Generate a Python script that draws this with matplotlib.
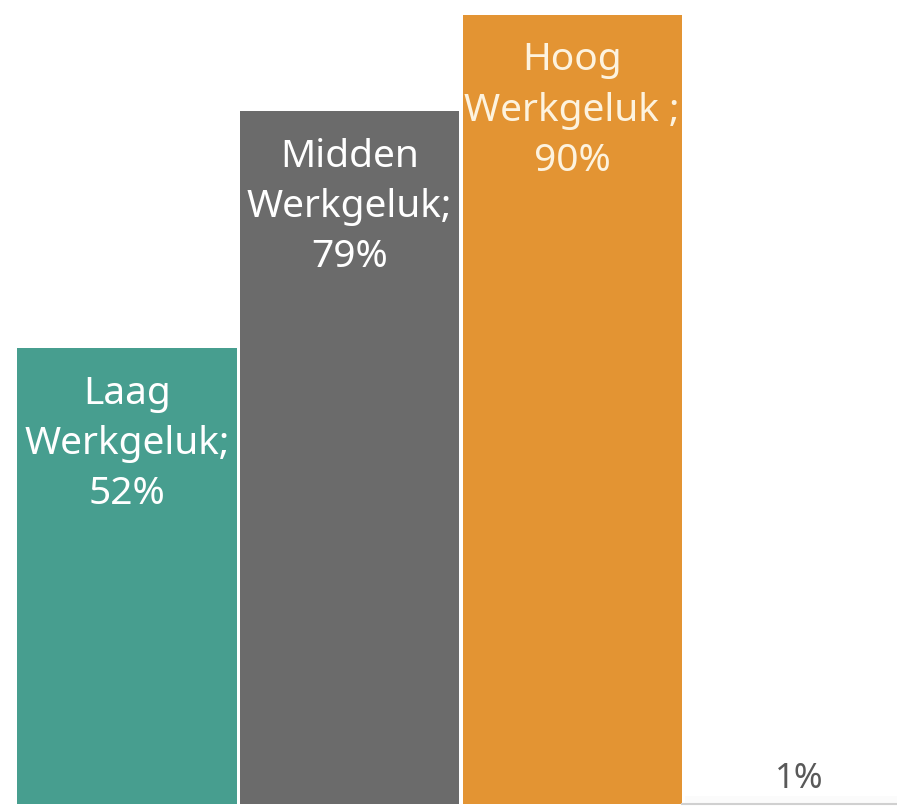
import matplotlib
matplotlib.use("Agg")
import matplotlib.pyplot as plt

# data
categories = ["Laag\nWerkgeluk;", "Midden\nWerkgeluk;", "Hoog\nWerkgeluk ;", ""]
values = [52, 79, 90, 1]
colors = ["#479e8f", "#6b6b6b", "#e39433", "#fbfbfb"]
text_colors = ["#ffffff", "#ffffff", "#fdf3df", "#595959"]

plt.rcParams["font.family"] = ["Noto Sans", "DejaVu Sans"]

fig = plt.figure(figsize=(8.97, 8.07), dpi=100)
ax = fig.add_axes([0, 0, 1, 1])
ax.axis("off")

x = list(range(len(values)))
bars = ax.bar(x, values, width=0.985, color=colors)
ax.axhline(0, color="#d0d0d0", lw=1.5, xmin=0.76, xmax=1)

ax.set_xlim(-0.571, 3.46)
ax.set_ylim(-0.3, 91.71)

for i, (cat, v) in enumerate(zip(categories, values)):
    if cat:
        label = cat + "\n" + str(v) + "%"
        ax.annotate(label, (i, v), xytext=(0, -19), textcoords="offset points",
                    ha="center", va="top", fontsize=28, color=text_colors[i],
                    linespacing=1.42)
    else:
        ax.annotate(str(v) + "%", (i, v), xytext=(3, 12), textcoords="offset points",
                    ha="center", va="center", fontsize=25, color=text_colors[i])

fig.savefig("out.png", dpi=100)
